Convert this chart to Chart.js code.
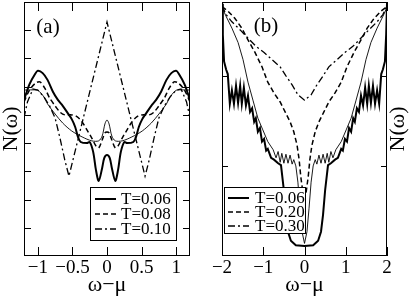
<!DOCTYPE html>
<html>
<head>
<meta charset="utf-8">
<script src="https://cdn.jsdelivr.net/npm/chart.js@4.4.0/dist/chart.umd.min.js"></script>
<style>
  html, body { margin: 0; padding: 0; background: #fff; }
  #wrap { position: relative; width: 409px; height: 296px; }
  canvas { position: absolute; top: 0; }
  #chartA { left: 0; }
  #chartB { left: 205px; }
</style>
</head>
<body>
<div id="wrap">
  <canvas id="chartA" width="205" height="296"></canvas>
  <canvas id="chartB" width="204" height="296"></canvas>
</div>
<script>
// PANEL (a) DATA
const aTicksX = [-1, -0.5, 0, 0.5, 1];
const aTicksY = [1, 2, 3, 4, 5, 6, 7, 8];
const aLabels = ['T=0.06', 'T=0.08', 'T=0.10'];

const a06x = [-1.2, -1.12, -1.04, -1.0, -0.93, -0.86, -0.78, -0.71, -0.64, -0.57, -0.51, -0.46, -0.42, -0.38, -0.29, -0.25, -0.2, -0.16, -0.12, -0.07, -0.04, 0,
  0.04, 0.07, 0.12, 0.16, 0.2, 0.25, 0.29, 0.38, 0.42, 0.46, 0.51, 0.57, 0.64, 0.71, 0.78, 0.86, 0.93, 1.0, 1.04, 1.12, 1.2];
const a06y = [5.53, 6.09, 6.45, 6.56, 6.48, 6.24, 5.81, 5.53, 5.32, 5.07, 4.85, 4.57, 4.22, 4.04, 4.00, 4.04, 3.69, 3.05, 2.66, 3.12, 3.47, 3.58,
  3.47, 3.12, 2.66, 3.05, 3.69, 4.04, 4.00, 4.04, 4.22, 4.57, 4.85, 5.07, 5.32, 5.53, 5.81, 6.24, 6.48, 6.56, 6.45, 6.09, 5.53];

const a08x = [-1.2, -1.12, -1.03, -0.97, -0.9, -0.83, -0.75, -0.68, -0.61, -0.51, -0.43, -0.36, -0.29, -0.22, -0.16, -0.12, -0.07, -0.03, 0,
  0.03, 0.07, 0.12, 0.16, 0.22, 0.29, 0.36, 0.43, 0.51, 0.61, 0.68, 0.75, 0.83, 0.9, 0.97, 1.03, 1.12, 1.2];
const a08y = [5.46, 5.88, 6.13, 6.17, 5.95, 5.60, 5.32, 5.10, 5.00, 5.00, 4.93, 4.75, 4.47, 4.18, 3.90, 3.83, 4.11, 4.36, 4.39,
  4.36, 4.11, 3.83, 3.90, 4.18, 4.47, 4.75, 4.93, 5.00, 5.00, 5.10, 5.32, 5.60, 5.95, 6.17, 6.13, 5.88, 5.46];

const a10x = [-1.2, -1.15, -1.07, -1.0, -0.91, -0.83, -0.75, -0.68, -0.61, -0.55, 0, 0.55, 0.61, 0.68, 0.75, 0.83, 0.91, 1.0, 1.07, 1.15, 1.2];
const a10y = [4.89, 5.46, 5.92, 5.88, 5.63, 5.32, 4.89, 4.18, 3.40, 2.83, 8.29, 2.83, 3.40, 4.18, 4.89, 5.32, 5.63, 5.88, 5.92, 5.46, 4.89];

const aThinX = [-1.2, -1.01, -0.97, -0.91, -0.86, -0.75, -0.64, -0.51, -0.36, -0.22, -0.12, -0.07, -0.03, 0,
  0.03, 0.07, 0.12, 0.22, 0.36, 0.51, 0.64, 0.75, 0.86, 0.91, 0.97, 1.01, 1.2];
const aThinY = [5.88, 5.88, 5.81, 5.63, 5.39, 5.03, 4.71, 4.43, 4.22, 4.08, 4.08, 4.25, 4.68, 4.82,
  4.68, 4.25, 4.08, 4.08, 4.22, 4.43, 4.71, 5.03, 5.39, 5.63, 5.81, 5.88, 5.88];

// PANEL (b) DATA
const bTicksX = [-2, -1, 0, 1, 2];
const bTicksY = [1, 2];
const bLabels = ['T=0.06', 'T=0.20', 'T=0.30'];

const b06x = [-2.0, -1.98, -1.95, -1.9, -1.86, -1.81, -1.76, -1.71, -1.66, -1.61, -1.56, -1.52, -1.47, -1.42, -1.37, -1.32, -1.27, -1.22, -1.18, -1.13, -1.08, -1.03, -0.98, -0.93, -0.89, -0.81, -0.74, -0.64, -0.57, -0.5, -0.45, -0.4, -0.33, -0.21, 0,
  0.21, 0.33, 0.4, 0.45, 0.5, 0.57, 0.64, 0.74, 0.81, 0.89, 0.93, 0.98, 1.03, 1.08, 1.13, 1.18, 1.22, 1.27, 1.32, 1.37, 1.42, 1.47, 1.52, 1.56, 1.61, 1.66, 1.71, 1.76, 1.81, 1.86, 1.9, 1.95, 1.98, 2.0];
const b06y = [2.80, 2.46, 2.16, 2.07, 2.02, 1.69, 1.84, 1.69, 1.89, 1.70, 1.89, 1.69, 1.87, 1.67, 1.78, 1.60, 1.64, 1.49, 1.53, 1.38, 1.42, 1.27, 1.30, 1.17, 1.19, 1.09, 1.07, 1.03, 1.01, 0.73, 0.46, 0.27, 0.17, 0.12, 0.11,
  0.12, 0.17, 0.27, 0.46, 0.73, 1.01, 1.03, 1.07, 1.09, 1.19, 1.17, 1.30, 1.27, 1.42, 1.38, 1.53, 1.49, 1.64, 1.60, 1.78, 1.67, 1.87, 1.69, 1.89, 1.70, 1.89, 1.69, 1.84, 1.69, 2.02, 2.07, 2.16, 2.46, 2.80];

const b20x = [-2.0, -1.86, -1.69, -1.52, -1.37, -1.2, -1.03, -0.89, -0.74, -0.59, -0.47, -0.35, -0.26, -0.18, -0.13, -0.09, -0.04, 0,
  0.04, 0.09, 0.13, 0.18, 0.26, 0.35, 0.47, 0.59, 0.74, 0.89, 1.03, 1.2, 1.37, 1.52, 1.69, 1.86, 2.0];
const b20y = [2.77, 2.72, 2.64, 2.53, 2.40, 2.26, 2.10, 1.93, 1.81, 1.71, 1.60, 1.49, 1.38, 1.23, 1.07, 0.88, 0.71, 0.66,
  0.71, 0.88, 1.07, 1.23, 1.38, 1.49, 1.60, 1.71, 1.81, 1.93, 2.10, 2.26, 2.40, 2.53, 2.64, 2.72, 2.77];

const b30x = [-2.0, -1.9, -1.76, -1.56, -1.37, -1.18, -0.98, -0.79, -0.59, -0.45, -0.3, -0.16, 0,
  0.16, 0.3, 0.45, 0.59, 0.79, 0.98, 1.18, 1.37, 1.56, 1.76, 1.9, 2.0];
const b30y = [2.78, 2.68, 2.60, 2.51, 2.42, 2.33, 2.26, 2.18, 2.10, 2.00, 1.90, 1.79, 1.73,
  1.79, 1.90, 2.00, 2.10, 2.18, 2.26, 2.33, 2.42, 2.51, 2.60, 2.68, 2.78];

const bThinX = [-2.0, -1.9, -1.76, -1.61, -1.49, -1.37, -1.25, -1.13, -1.01, -0.89, -0.76, -0.69, -0.64, -0.59, -0.55, -0.5, -0.45, -0.4, -0.35, -0.3, -0.26, -0.21, -0.16, -0.11, -0.06, 0,
  0.06, 0.11, 0.16, 0.21, 0.26, 0.3, 0.35, 0.4, 0.45, 0.5, 0.55, 0.59, 0.64, 0.69, 0.76, 0.89, 1.01, 1.13, 1.25, 1.37, 1.49, 1.61, 1.76, 1.9, 2.0];
const bThinY = [2.76, 2.66, 2.53, 2.37, 2.18, 1.93, 1.73, 1.53, 1.40, 1.27, 1.18, 1.09, 1.16, 1.04, 1.14, 1.03, 1.13, 1.03, 1.12, 1.02, 1.07, 1.00, 0.82, 0.53, 0.27, 0.14,
  0.27, 0.53, 0.82, 1.00, 1.07, 1.02, 1.12, 1.03, 1.13, 1.03, 1.14, 1.04, 1.16, 1.09, 1.18, 1.27, 1.40, 1.53, 1.73, 1.93, 2.18, 2.37, 2.53, 2.66, 2.76];

const SERIF = "'Liberation Serif', 'DejaVu Serif', serif";
const toPts = (xs, ys) => xs.map((x, i) => ({ x: x, y: ys[i] }));
const fixMinus = v => String(v).replace('-', '\u2212');

//PLUGINS
const frameTicks = {
  id: 'frameTicks',
  afterDraw(chart, args, opts) {
    const { ctx, chartArea: a, scales } = chart;
    ctx.save();
    ctx.strokeStyle = '#000';
    ctx.lineWidth = 1;
    ctx.strokeRect(a.left + 0.5, a.top + 0.5, a.right - a.left - 1, a.bottom - a.top - 1);
    ctx.beginPath();
    opts.xTicks.forEach(v => {
      const px = Math.round(scales.x.getPixelForValue(v)) + 0.5;
      ctx.moveTo(px, a.bottom); ctx.lineTo(px, a.bottom - opts.xLen);
      ctx.moveTo(px, a.top); ctx.lineTo(px, a.top + opts.xLen);
    });
    opts.yTicks.forEach(v => {
      const py = Math.round(scales.y.getPixelForValue(v)) + 0.5;
      ctx.moveTo(a.left, py); ctx.lineTo(a.left + opts.yLen, py);
      ctx.moveTo(a.right, py); ctx.lineTo(a.right - opts.yLen, py);
    });
    ctx.stroke();
    ctx.restore();
  }
};

const boxLegend = {
  id: 'boxLegend',
  afterDatasetsDraw(chart, args, opts) {
    const ctx = chart.ctx;
    const b = opts.box;
    ctx.save();
    ctx.fillStyle = '#fff';
    ctx.fillRect(b[0], b[1], b[2], b[3]);
    ctx.strokeStyle = '#000';
    ctx.lineWidth = 1;
    ctx.strokeRect(b[0] + 0.5, b[1] + 0.5, b[2], b[3]);
    const items = chart.data.datasets.filter(d => d.label);
    items.forEach((d, i) => {
      const y = opts.rows[i];
      ctx.beginPath();
      ctx.setLineDash(d.borderDash || []);
      ctx.lineWidth = d.borderWidth;
      ctx.strokeStyle = d.borderColor;
      ctx.moveTo(opts.lineX[0], y);
      ctx.lineTo(opts.lineX[1], y);
      ctx.stroke();
      ctx.setLineDash([]);
      ctx.fillStyle = '#000';
      ctx.font = '17px ' + SERIF;
      ctx.textBaseline = 'middle';
      ctx.textAlign = 'left';
      ctx.fillText(d.label, opts.textX, y + 1);
    });
    ctx.restore();
  }
};

const panelText = {
  id: 'panelText',
  afterDraw(chart, args, opts) {
    const ctx = chart.ctx;
    ctx.save();
    ctx.fillStyle = '#000';
    ctx.textAlign = 'center';
    ctx.textBaseline = 'middle';
    opts.items.forEach(t => {
      ctx.save();
      ctx.translate(t.x, t.y);
      ctx.rotate(t.rot || 0);
      ctx.font = t.size + 'px ' + SERIF;
      ctx.fillText(t.text, 0, 0);
      ctx.restore();
    });
    ctx.restore();
  }
};

const xScale = (min, max, ticks) => ({
  type: 'linear', min: min, max: max,
  afterBuildTicks: s => { s.ticks = ticks.map(v => ({ value: v })); },
  afterFit: s => { s.height = 40; },
  grid: { display: false, drawTicks: false },
  border: { display: false },
  ticks: { font: { family: SERIF, size: 19 }, color: '#000', padding: 1, maxRotation: 0, autoSkip: false, callback: fixMinus },
  title: { display: true, text: 'ω−μ', font: { family: SERIF, size: 22, lineHeight: 1 }, color: '#000', padding: 0 }
});

const yScale = (min, max, ticks, width, withTitle) => ({
  type: 'linear', min: min, max: max,
  afterBuildTicks: s => { s.ticks = ticks.map(v => ({ value: v })); },
  afterFit: s => { s.width = width; },
  grid: { display: false, drawTicks: false },
  border: { display: false },
  ticks: { display: false },
  title: { display: withTitle, text: 'N(ω)', font: { family: SERIF, size: 22, lineHeight: 1 }, color: '#000', padding: 0 }
});

const line = (label, pts, width, dash, tension) => ({
  label: label, data: pts, borderColor: '#000', borderWidth: width, borderDash: dash,
  pointRadius: 0, tension: tension, fill: false
});

// PANEL (a)
new Chart(document.getElementById('chartA'), {
  type: 'line',
  data: {
    datasets: [
      line('', toPts(aThinX, aThinY), 0.9, [], 0.3),
      line(aLabels[0], toPts(a06x, a06y), 2, [], 0.3),
      line(aLabels[1], toPts(a08x, a08y), 1.5, [5, 3], 0.3),
      line(aLabels[2], toPts(a10x, a10y), 1.3, [7, 3, 2, 3], 0)
    ]
  },
  options: {
    responsive: false,
    animation: false,
    layout: { padding: { left: 0, top: 2, right: 15, bottom: 0 } },
    plugins: {
      legend: { display: false },
      tooltip: { enabled: false },
      frameTicks: { xTicks: aTicksX, yTicks: aTicksY, xLen: 9, yLen: 7 },
      boxLegend: { box: [90, 187, 86, 53], rows: [199, 214, 229], lineX: [95, 116], textX: 121 },
      panelText: { items: [{ text: '(a)', x: 48, y: 27, size: 21 }] }
    },
    scales: {
      x: xScale(-1.2, 1.2, aTicksX),
      y: yScale(0, 9, aTicksY, 24, true)
    }
  },
  plugins: [frameTicks, boxLegend, panelText]
});

// PANEL (b)
new Chart(document.getElementById('chartB'), {
  type: 'line',
  data: {
    datasets: [
      line('', toPts(bThinX, bThinY), 0.9, [], 0),
      line(bLabels[0], toPts(b06x, b06y), 2, [], 0),
      line(bLabels[1], toPts(b20x, b20y), 1.5, [5, 3], 0),
      line(bLabels[2], toPts(b30x, b30y), 1.3, [7, 3, 2, 3], 0)
    ]
  },
  options: {
    responsive: false,
    animation: false,
    layout: { padding: { left: 0, top: 2, right: 22, bottom: 0 } },
    plugins: {
      legend: { display: false },
      tooltip: { enabled: false },
      frameTicks: { xTicks: bTicksX, yTicks: bTicksY, xLen: 9, yLen: 6 },
      boxLegend: { box: [19, 187, 81, 46], rows: [198, 212, 226], lineX: [23, 44], textX: 50 },
      panelText: { items: [{ text: '(b)', x: 61, y: 26, size: 21 }, { text: 'N(ω)', x: 193, y: 129, size: 22, rot: -Math.PI / 2 }] }
    },
    scales: {
      x: xScale(-2, 2, bTicksX),
      y: yScale(0, 2.82, bTicksY, 17, false)
    }
  },
  plugins: [frameTicks, boxLegend, panelText]
});
</script>
</body>
</html>
